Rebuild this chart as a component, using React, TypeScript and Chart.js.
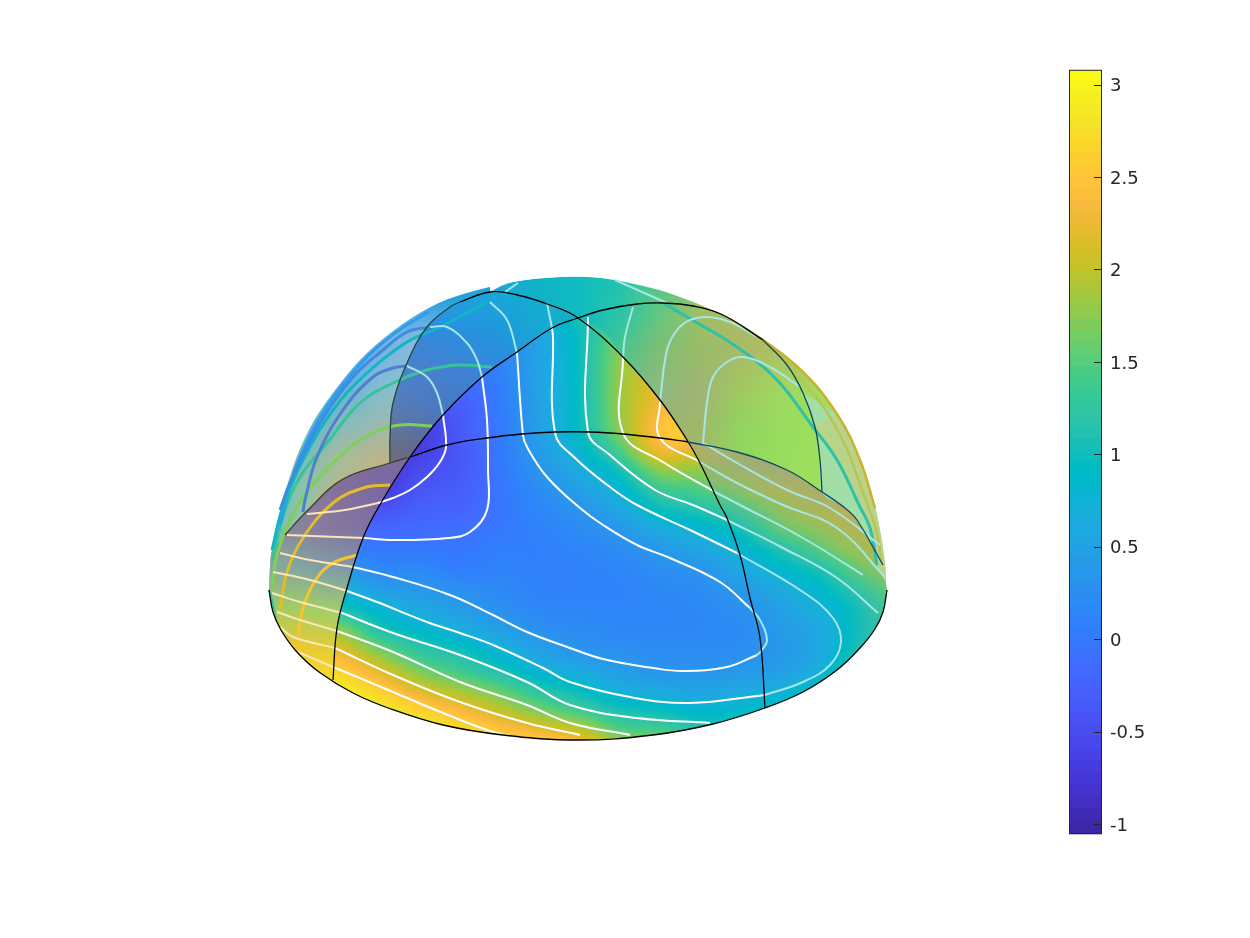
import React, { useEffect, useRef } from "react";
import { Chart, registerables } from "chart.js";
Chart.register(...registerables);

type P = number[];
// ---------- colour scale ----------
const cbMin = -1.055, cbMax = 3.08;
const cbTicks = [-1, -0.5, 0, 0.5, 1, 1.5, 2, 2.5, 3];
const parula = [[.2422,.1504,.6603],[.2504,.165,.7076],[.2578,.1818,.7511],[.2647,.1978,.7952],[.2706,.2147,.8364],[.2751,.2342,.871],[.2783,.2559,.8991],[.2803,.2782,.9221],[.2813,.3006,.9414],[.281,.3228,.9579],[.2795,.3447,.9717],[.276,.3667,.9829],[.2699,.3892,.9906],[.2602,.4123,.9952],[.244,.4358,.9988],[.2206,.4603,.9973],[.1963,.4847,.9892],[.1834,.5074,.9798],[.1786,.5289,.9682],[.1764,.5499,.952],[.1687,.5703,.9359],[.154,.5902,.9218],[.146,.6091,.9079],[.138,.6276,.8973],[.1248,.6459,.8883],[.1113,.6635,.8763],[.0952,.6798,.8598],[.0689,.6948,.8394],[.0297,.7082,.8163],[.0036,.7203,.7917],[.0067,.7312,.766],[.0433,.7411,.7394],[.0964,.75,.712],[.1408,.7584,.6842],[.1717,.767,.6554],[.1938,.7758,.6251],[.2161,.7843,.5923],[.247,.7918,.5567],[.2906,.7973,.5188],[.3406,.8008,.4789],[.3909,.8029,.4354],[.4456,.8024,.3909],[.5044,.7993,.348],[.5616,.7942,.3045],[.6174,.7876,.2612],[.672,.7793,.2227],[.7242,.7698,.191],[.7738,.7598,.1646],[.8203,.7498,.1535],[.8634,.7406,.1596],[.9035,.733,.1774],[.9393,.7288,.21],[.9728,.7298,.2394],[.9956,.7434,.2371],[.997,.7659,.2199],[.9952,.7893,.2028],[.9892,.8136,.1885],[.9786,.8386,.1766],[.9676,.8639,.1643],[.961,.889,.1537],[.9597,.9135,.1423],[.9628,.9373,.1265],[.9691,.9606,.1064],[.9769,.9839,.0805]];

// ---------- surface values (front face) ----------
const frontX = [260,300,340,380,420,460,500,540,580,620,660,700,740,780,820,860,900];
const frontY = [310,330,350,370,390,410,430,450,470,490,510,530,550,570,590,610,630,650,670,690,710,730,750];
const frontField = [
[.3,.3,.3,.3,.3,.3,.3,.7,1.15,1.5,1.8,1.9,2,2,2,2,2],
[0,0,0,0,0,.1,.2,.55,1,1.6,1.9,2,2,2,2,2,2],
[-.3,-.3,-.3,-.3,-.2,0,.12,.5,.98,1.72,2.1,2.2,2,2,2,2,2],
[-.4,-.4,-.4,-.4,-.3,-.1,.08,.5,.97,1.78,2.15,2.3,2,2,2,2,2],
[-.5,-.5,-.5,-.5,-.45,-.25,.03,.5,.97,1.8,2.25,2.4,2,2,2,2,2],
[-.6,-.6,-.6,-.6,-.55,-.35,0,.48,.96,1.8,2.35,2.55,2,2,2,2,2],
[-.7,-.7,-.7,-.72,-.7,-.38,-.02,.46,.95,1.75,2.45,2.6,2.1,2,2,2,2],
[-.7,-.7,-.75,-.8,-.68,-.4,-.03,.4,.8,1.45,2.3,2.15,2,2,2,2,2],
[-.7,-.7,-.75,-.8,-.55,-.38,-.05,.3,.62,1.05,1.75,1.8,1.9,2,2,2,2],
[-.6,-.6,-.7,-.75,-.42,-.33,-.07,.2,.45,.78,1.3,1.45,1.7,2,2.1,2.2,2.3],
[-.2,-.55,-.45,-.45,-.3,-.25,-.07,.12,.3,.55,.95,1.1,1.35,1.75,2,2.3,2.4],
[.05,-.17,-.17,-.2,-.17,-.13,-.03,.07,.18,.34,.6,.78,1,1.5,1.75,2.05,2.3],
[.3,.15,.05,-.02,-.02,-.05,.02,.03,.1,.2,.35,.52,.75,1.08,1.48,1.85,2.1],
[.7,.55,.38,.15,.15,.03,.08,.04,.06,.12,.22,.3,.55,.82,1.08,1.55,1.85],
[1.1,.9,.72,.45,.35,.25,.16,.07,.07,.08,.14,.2,.37,.58,.85,1.22,1.6],
[1.5,1.25,1.08,.8,.58,.42,.26,.14,.11,.1,.12,.15,.25,.45,.7,1.02,1.35],
[2.3,2,1.75,1.1,.85,.65,.45,.26,.19,.15,.14,.15,.18,.38,.58,1,1.2],
[2.6,2.5,2.2,1.65,1.2,1,.72,.47,.29,.24,.2,.2,.22,.35,.58,1.08,1.2],
[2.8,2.8,2.6,2.15,1.65,1.35,1.05,.72,.58,.4,.3,.3,.35,.42,.7,1.3,1.3],
[3,3,2.95,2.6,2.15,1.85,1.55,1.15,.92,.66,.58,.5,.58,.68,1,1.4,1.4],
[3,3,3,2.9,2.65,2.35,2,1.65,1.35,1.05,.95,.8,.85,1,1.3,1.5,1.5],
[3,3,3,3,2.95,2.75,2.5,2.25,2,1.5,1.4,1.15,1.2,1.3,1.5,1.5,1.5],
[3,3,3,3,3,3,2.85,2.85,2.5,2.1,1.9,1.6,1.5,1.5,1.5,1.5,1.5],
];

// ---------- washed (see-through) surface colours ----------
const outerX = [260,300,340,380,420,460];
const outerY = [300,340,380,420,460,500,540];
const outerColors = [
"3a9aea 3a9aea 3a9aea 3a9aea 2e9ee6 20a4dc",
"3a9aea 3a9aea 3ea0e8 70b0e0 8abde0 8abde0",
"3a9aea 3a9fe8 58b0d8 82bcd8 90c0d0 90c0d0",
"3aa0e0 50b0d8 80bcc0 95bbb5 a0bcaa a0bcaa",
"40a8d8 78c0b8 a8bc98 bdb488 c4b280 c4b280",
"60b8c8 90c4a8 b8b888 c4b080 c4b080 c4b080",
"60b8c8 90c4a8 b8b888 c4b080 c4b080 c4b080",
];
const innerX = [380,420,460,500,540,580];
const innerY = [290,330,370,410,450];
const innerColors = [
"20a4e0 20a4e0 20a4e0 18a8d8 10b0cc 10b4c8",
"3090dc 3088dc 2890e0 2098dc 18a8d4 10b4c8",
"4a84d4 4a80cc 3f82d4 3088e0 2098dc 10b4c8",
"5a7cac 507ab8 4478c8 3f84e0 2098dc 10b4c8",
"707078 606a90 5070b0 4478d0 2098dc 10b4c8",
];
const capX = [460,500,540,580,620,660,700,740,780,820,860,900];
const capY = [270,310,350,390,430,470,510];
const capColors = [
"20a8d8 18acd4 10b4c8 10bcc0 20c4b0 50c888 80c470 b0bc5c b0bc5c b0bc5c b0bc5c b0bc5c",
"20a0d8 20a4d4 10b0c8 10bcc0 28c4a8 60c880 a0c064 b0b860 b8b858 c0c050 c0c050 c0c050",
"20a0d8 20a4d4 10b0c8 10bcc0 48c490 80be72 98bc68 a8bb6a b0c060 b8c058 b8c058 b8c058",
"20a0d8 20a4d4 10b0c8 10bcc0 70c080 8eb880 9fb474 a0c85e a0d860 a0dc60 a0dc60 a0dc60",
"20a0d8 20a4d4 10b0c8 10bcc0 70c080 a0b070 a0b868 90d460 98dc5e 9ee05c 9ee05c 9ee05c",
"20a0d8 20a4d4 10b0c8 10bcc0 70c080 a0b070 a0b868 90d860 9adc5e 9ee05c 9ee05c 9ee05c",
"20a0d8 20a4d4 10b0c8 10bcc0 70c080 a0b070 a0b868 90d860 9adc5e 9ee05c 9ee05c 9ee05c",
];
const lobeX = [260,300,340,380];
const lobeY = [450,490,530,570,610,650,690];
const lobeColors = [
"9a8a96 8a7f90 7c6c9a 7c6c9a",
"9a8a9a 8f7d9c 83709c 7a68a0",
"90909c 87839f 85769f 7f70a5",
"8aae9c 82a89f 7f9ca8 7a98b0",
"a4ca60 a4cf60 9fcd70 9fcd70",
"e8c830 f0c832 e0d030 e0d030",
"ffe020 ffe020 ffe020 ffe020",
];
const veilX = [680,720,760,800,840,880];
const veilY = [440,470,500,530,560,590];
const veilColors = [
"98a888c8 98a888c8 98a888c8 98a888c8 98a888c8 98a888c8",
"98a88850 98a888a0 98a888c0 98a888d0 98a888d0 98a888d0",
"98a88810 98a88820 98a88850 98a88890 98a888b0 98a888c8",
"98a88800 98a88800 98a88810 98a88820 98a88860 98a888a0",
"98a88800 98a88800 98a88800 98a88800 98a88810 98a88850",
"98a88800 98a88800 98a88800 98a88800 98a88800 98a88820",
];

// ---------- outlines ----------
const domeTop: P[] = [[269,590],[271,555],[277,522],[293,467],[310,428],[330,397],[360,360],[393,331],[427,309],[460,295],[513,282],[560,277],[602,278],[640,284],[680,297],[723,315],[763,340],[803,372],[837,414],[860,460],[877,515],[885,555],[887,590]];
const domeBottom: P[] = [[887,590],[883,612],[875,629],[860,648],[837,670],[803,692],[765,708],[713,724],[653,735],[578,740],[503,735],[443,725],[391,709],[353,693],[319,672],[296,651],[281,630],[273,612],[269,590]];
const arc1Front: P[] = [[333,680],[337,628],[347,588],[363,538],[378,508],[410,457],[443,415],[482,377],[517,352],[552,328],[578,318],[603,310],[637,304],[663,303],[693,306],[723,315],[763,340]];
const arc1Behind: P[] = [[763,340],[787,365],[803,393],[815,427],[820,460],[822,492]];
const arc2Front: P[] = [[765,708],[760,638],[750,598],[740,555],[727,518],[720,505],[700,463],[687,440],[660,400],[623,357],[578,318],[550,305],[517,295],[490,292],[460,302]];
const arc2Behind: P[] = [[460,302],[450,307],[427,327],[407,363],[393,403],[390,437],[390,463]];
const horizonLeft: P[] = [[285,535],[308,510],[343,479],[390,463],[410,457]];
const horizonMid: P[] = [[410,457],[447,445],[487,438],[522,434],[555,432],[590,432],[623,434],[660,438],[688,442]];
const horizonRight: P[] = [[688,442],[737,452],[787,470],[822,492],[845,508],[857,520],[883,565]];

// ---------- contour lines ----------
const c0White: P[] = [[443,415],[446,447],[440,462],[427,477],[410,490],[393,498],[378,503]];
const c0Cream: P[] = [[378,503],[345,510],[307,514]];
const c0Pale: P[] = [[443,415],[437,393],[427,377],[407,366]];
const c0Blue: P[] = [[407,366],[393,368],[373,377],[343,410],[317,457],[305,500],[303,512]];
const c1White: P[] = [[482,377],[487,420],[488,470],[487,510],[470,532],[448,538],[393,540],[365,538]];
const c1Cream: P[] = [[365,538],[337,537],[287,535]];
const c1Pale: P[] = [[482,377],[477,360],[467,343],[447,327],[430,327]];
const c1Blue: P[] = [[430,327],[407,332],[383,350],[353,377],[320,423],[290,483],[280,510]];
const l1White: P[] = [[517,353],[523,435],[527,447],[547,477],[580,508],[603,525],[637,545],[670,558],[720,582],[750,608]];
const l1Pale: P[] = [[750,608],[760,620],[767,640],[762,650],[757,655]];
const l1WhiteLow: P[] = [[757,655],[727,667],[683,671],[653,668],[603,659],[570,648],[527,632],[493,615],[450,595],[393,577],[353,567]];
const l1Cream: P[] = [[353,567],[310,560],[280,553]];
const l1Top: P[] = [[517,353],[507,320],[490,302]];
const l2White: P[] = [[552,328],[553,337],[555,433],[575,458],[610,487],[637,505],[690,530],[737,553]];
const l2Pale: P[] = [[737,553],[803,592],[833,618],[841,642],[830,665],[803,682],[765,695]];
const l2WhiteLow: P[] = [[765,695],[690,703],[630,697],[570,682],[543,668],[493,645],[460,633],[427,622],[377,602],[347,591]];
const l2Cream: P[] = [[347,591],[310,580],[273,572]];
const l2Top: P[] = [[552,328],[547,303]];
const l3White: P[] = [[588,317],[588,432],[610,455],[655,490],[693,505],[727,520]];
const l3Pale: P[] = [[727,520],[783,548],[837,578],[878,613]];
const l3WhiteLow: P[] = [[710,723],[637,718],[570,705],[527,682],[460,655],[393,633],[342,613]];
const l3Cream: P[] = [[342,613],[300,602],[272,593]];
const l4White: P[] = [[623,358],[623,433],[663,462],[715,492]];
const l4Pale: P[] = [[715,492],[740,505],[803,538],[863,575]];
const l4Top: P[] = [[623,358],[625,337],[633,307]];
const l4WhiteLow: P[] = [[630,735],[570,723],[527,705],[460,682],[393,652],[337,631]];
const l4Cream: P[] = [[337,631],[300,620],[277,612]];
const l5White: P[] = [[660,402],[660,438],[700,462]];
const l5Pale: P[] = [[700,462],[737,483],[783,505],[837,528],[885,577]];
const l5Top: P[] = [[660,402],[667,350],[677,330],[690,320],[707,317],[730,322],[757,337]];
const l5WhiteLow: P[] = [[580,735],[527,723],[460,702],[393,675],[335,648]];
const l5Cream: P[] = [[335,648],[293,637],[280,627]];
const l6Pale: P[] = [[703,443],[737,463],[787,490],[830,508],[880,545]];
const l6Top: P[] = [[703,443],[707,403],[713,377],[727,362],[743,357],[770,367],[800,387]];
const l6WhiteLow: P[] = [[520,738],[493,732],[443,713],[393,692],[333,667]];
const l6Cream: P[] = [[333,667],[298,652]];
const capPale: P[] = [[615,280],[667,303]];
const capPaleLeft: P[] = [[505,292],[518,283]];
// ---------- contours of the far side, seen through ----------
const goldA: P[] = [[390,485],[363,488],[333,503],[303,538],[287,572],[280,612]];
const goldB: P[] = [[357,555],[333,563],[317,578],[303,608],[297,650]];
const greenFar: P[] = [[432,426],[400,425],[373,433],[347,450],[317,480],[295,510],[277,555],[272,592]];
const tealGreenFar: P[] = [[492,367],[460,365],[427,370],[393,383],[360,403],[327,443],[300,477],[285,510],[272,560]];
const tealFar: P[] = [[487,302],[440,327],[407,342],[367,373],[333,410],[303,460],[283,507],[272,550]];
const rimBlueFar: P[] = [[428,312],[395,333],[362,362],[330,402],[312,432],[295,470],[280,525]];
const tealRight: P[] = [[663,303],[687,317],[737,347],[777,380],[813,427],[837,460],[860,507],[870,528],[877,565]];
const rimGold: P[] = [[730,319],[763,340],[803,372],[837,414],[860,460],[875,508]];
const rimOlive: P[] = [[785,362],[820,402],[845,445],[862,490],[876,530],[882,565]];
const sliver: P[] = [[803,393],[815,427],[820,460],[822,492],[845,508],[857,520],[883,565],[887,582],[877,515],[860,460],[837,414]];
const rimBand: P[] = [[813,427],[837,460],[860,507],[870,528],[877,565],[886,580],[877,515],[860,460],[837,414]];

// Points given twice in an outline are its corners.
const frontOutline: P[] = [[333,680],[333,680],...arc1Front.slice(1, 11), [578,318],[603,331],[623,357],[660,400],[687,440],[688,442],[688,442], ...horizonRight.slice(1), [883,565],[887,590], ...domeBottom];
const capOutline: P[] = [[490,292],[490,292],[513,282],[560,277],[602,278],[670,293],[723,315],[763,340],[803,372],[837,414],[860,460],[877,515],[887,590],[887,590],[857,520],[822,492],[787,470],[737,452],[688,442],[688,442],[660,400],[623,357],[578,318],[578,318],[550,305],[517,295]];
const innerOutline: P[] = [[490,292],[490,292],[517,295],[550,305],[578,318],[578,318],[552,328],[517,352],[482,377],[443,415],[410,457],[410,457],[390,463],[390,463],[390,437],[393,403],[407,363],[427,327],[450,307],[460,302]];
const lobeOutline: P[] = [[262,600],[262,600],[268,560],[285,535],[308,510],[343,479],[390,463],[410,457],[410,457],[378,508],[363,538],[347,588],[337,628],[333,680],[333,680],[296,651],[281,630],[270,590]];
const veilOutline: P[] = [[688,442],[688,442],[737,452],[787,470],[822,492],[845,508],[857,520],[883,565],[883,565],[890,620],[890,620],[765,708],[765,708],[760,638],[750,598],[740,555],[727,518],[720,505],[700,463]];
const outerOutline: P[] = [[262,270],[262,270],[490,270],[490,270],[490,470],[490,470],[262,600],[262,600]];

const hex = (s: string) => [0, 2, 4, 6].map(i => (s.length > i ? parseInt(s.slice(i, i + 2), 16) : 255));
const cellCols = (rows: string[]) => rows.map(r => r.split(" ").map(hex));
const valueColor = (v: number) => {
  const t = Math.min(63, Math.max(0, ((v - cbMin) / (cbMax - cbMin)) * 63));
  const i = Math.min(62, Math.floor(t)), f = t - i;
  return [0, 1, 2].map(k => 255 * (parula[i][k] * (1 - f) + parula[i + 1][k] * f)).concat(255);
};
const locate = (a: number[], v: number) => {
  let i = 0;
  while (i < a.length - 2 && a[i + 1] < v) i++;
  return [i, Math.max(0, Math.min(1, (v - a[i]) / (a[i + 1] - a[i])))];
};
const tracePath = (ctx: any, xs: any, ys: any, pts: P[]) => {
  const q = pts.map(p => [xs.getPixelForValue(p[0]), ys.getPixelForValue(p[1])]);
  const n = q.length;
  ctx.beginPath();
  ctx.moveTo(q[0][0], q[0][1]);
  for (let i = 0; i < n; i++) {
    const a = q[(i - 1 + n) % n], b = q[i], c = q[(i + 1) % n], d = q[(i + 2) % n];
    ctx.bezierCurveTo(b[0] + (c[0] - a[0]) / 6, b[1] + (c[1] - a[1]) / 6, c[0] - (d[0] - b[0]) / 6, c[1] - (d[1] - b[1]) / 6, c[0], c[1]);
  }
  ctx.closePath();
};
const cubic = (a: number, b: number, c: number, d: number, t: number) =>
  b + 0.5 * t * (c - a + t * (2 * a - 5 * b + 4 * c - d + t * (3 * (b - c) + d - a)));
const sampleField = (f: number[][], i: number, j: number, fx: number, fy: number) => {
  const rows = [j - 1, j, j + 1, j + 2].map(r => Math.max(0, Math.min(f.length - 1, r)));
  const cs = [i - 1, i, i + 1, i + 2].map(c => Math.max(0, Math.min(f[0].length - 1, c)));
  const v = rows.map(r => cubic(f[r][cs[0]], f[r][cs[1]], f[r][cs[2]], f[r][cs[3]], fx));
  return cubic(v[0], v[1], v[2], v[3], fy);
};
function paint(ctx: any, xs: any, ys: any, gx: number[], gy: number[], outline: P[], field: number[][] | null, cols: number[][][] | null) {
  const px = outline.map(p => xs.getPixelForValue(p[0])), py = outline.map(p => ys.getPixelForValue(p[1]));
  const x0 = Math.floor(Math.min(...px)) - 4, x1 = Math.ceil(Math.max(...px)) + 4, y0 = Math.floor(Math.min(...py)) - 4, y1 = Math.ceil(Math.max(...py)) + 4;
  const w = x1 - x0, h = y1 - y0;
  const off = document.createElement("canvas");
  off.width = w; off.height = h;
  const oc = off.getContext("2d")!;
  const img = oc.createImageData(w, h);
  for (let r = 0; r < h; r++) {
    const [j, fy] = locate(gy, ys.getValueForPixel(y0 + r + 0.5));
    for (let c = 0; c < w; c++) {
      const [i, fx] = locate(gx, xs.getValueForPixel(x0 + c + 0.5));
      let rgba: number[];
      if (field) {
        rgba = valueColor(sampleField(field, i, j, fx, fy));
      } else {
        const g = cols!;
        rgba = [0, 1, 2, 3].map(k => g[j][i][k] * (1 - fx) * (1 - fy) + g[j][i + 1][k] * fx * (1 - fy) + g[j + 1][i][k] * (1 - fx) * fy + g[j + 1][i + 1][k] * fx * fy);
      }
      const o = (r * w + c) * 4;
      img.data[o] = rgba[0]; img.data[o + 1] = rgba[1]; img.data[o + 2] = rgba[2]; img.data[o + 3] = rgba[3];
    }
  }
  oc.putImageData(img, 0, 0);
  ctx.save();
  tracePath(ctx, xs, ys, outline);
  ctx.clip();
  ctx.drawImage(off, x0, y0);
  ctx.restore();
}

const surfacePlugin = {
  id: "surface",
  beforeDatasetsDraw(chart: any) {
    const { ctx, scales: { x, y } } = chart;
    ctx.save();
    tracePath(ctx, x, y, [...domeTop, ...domeBottom]);
    ctx.clip();
    paint(ctx, x, y, outerX, outerY, outerOutline, null, cellCols(outerColors));
    paint(ctx, x, y, innerX, innerY, innerOutline, null, cellCols(innerColors));
    paint(ctx, x, y, capX, capY, capOutline, null, cellCols(capColors));
    paint(ctx, x, y, frontX, frontY, frontOutline, frontField, null);
    paint(ctx, x, y, lobeX, lobeY, lobeOutline, null, cellCols(lobeColors));
    paint(ctx, x, y, veilX, veilY, veilOutline, null, cellCols(veilColors));
    ctx.restore();
  },
};

const WHITE = "#ffffff", PALE = "#a6e6e6", CREAM = "#fbe6b8";
const lineSets: [P[], string, number][] = [
  [goldA, "#e2bd2a", 3], [goldB, "#f5c62b", 3], [greenFar, "#7fcf58", 3], [tealGreenFar, "#36c49a", 3], [rimBlueFar, "#2f9cee", 3], [tealFar, "#12b4c8", 3],
  [c0Blue, "#4f7fd0", 3], [c1Blue, "#3f8be0", 3], [rimGold, "#cdb02c", 2.5], [rimOlive, "#b8c458", 2.5], [tealRight, "#30c0a8", 3],
  [c0White, WHITE, 2], [c0Cream, CREAM, 2], [c0Pale, PALE, 2],
  [c1White, WHITE, 2], [c1Cream, CREAM, 2], [c1Pale, PALE, 2],
  [l1White, WHITE, 2], [l1Pale, PALE, 2], [l1WhiteLow, WHITE, 2], [l1Cream, CREAM, 2], [l1Top, PALE, 2],
  [l2White, WHITE, 2], [l2Pale, PALE, 2], [l2WhiteLow, WHITE, 2], [l2Cream, CREAM, 2], [l2Top, PALE, 2],
  [l3White, WHITE, 2], [l3Pale, PALE, 2], [l3WhiteLow, WHITE, 2], [l3Cream, CREAM, 2],
  [l4White, WHITE, 2], [l4Pale, PALE, 2], [l4Top, PALE, 2], [l4WhiteLow, WHITE, 2], [l4Cream, CREAM, 2],
  [l5White, WHITE, 2], [l5Pale, PALE, 2], [l5Top, PALE, 2], [l5WhiteLow, WHITE, 2], [l5Cream, CREAM, 2],
  [l6Pale, PALE, 2], [l6Top, PALE, 2], [l6WhiteLow, WHITE, 2], [l6Cream, CREAM, 2],
  [capPale, PALE, 2], [capPaleLeft, PALE, 2],
  [domeBottom, "#000000", 1.3],
  [arc1Front, "#000000", 1.3], [arc2Front, "#000000", 1.3], [horizonMid, "#000000", 1.3],
  [arc1Behind, "#0f4a5c", 1.3], [arc2Behind, "#27463f", 1.3], [horizonLeft, "#3d3d20", 1.3], [horizonRight, "#0f4a66", 1.3],
];
const toXY = (pts: P[]) => pts.map(p => ({ x: p[0], y: p[1] }));

function MainChart() {
  const ref = useRef<HTMLCanvasElement>(null);
  useEffect(() => {
    const shape = (pts: P[], color: string) => ({ data: toXY(pts), showLine: true, fill: "shape", backgroundColor: color, borderWidth: 0, pointRadius: 0, tension: 0.4 });
    const all: any[] = [
      shape(sliver, "#a2dea6"),
      shape(rimBand, "#b8d48a"),
      ...lineSets.map(([pts, color, width]) => ({ data: toXY(pts), showLine: true, borderColor: color, borderWidth: width, pointRadius: 0, tension: 0.4, fill: false })),
    ];
    all.forEach((d, i) => (d.order = all.length - i));
    const chart = new Chart(ref.current!, {
      type: "scatter",
      data: { datasets: all },
      plugins: [surfacePlugin],
      options: {
        animation: false, responsive: false, devicePixelRatio: 1,
        layout: { padding: 0 },
        plugins: { legend: { display: false }, tooltip: { enabled: false }, title: { display: false } },
        scales: { x: { type: "linear", min: 0, max: 1250, display: false }, y: { type: "linear", min: 0, max: 938, reverse: true, display: false } },
      },
    } as any);
    return () => chart.destroy();
  }, []);
  return <canvas ref={ref} width={1250} height={938} style={{ position: "fixed", left: 0, top: 0 }} />;
}

const barFramePlugin = {
  id: "barFrame",
  afterDatasetsDraw(chart: any) {
    const { ctx, chartArea: a, scales: { y } } = chart;
    ctx.save();
    ctx.strokeStyle = "#262626";
    ctx.lineWidth = 1;
    ctx.strokeRect(a.left + 0.5, a.top + 0.5, a.right - a.left - 1, a.bottom - a.top - 1);
    y.ticks.forEach((t: any) => {
      const py = Math.round(y.getPixelForValue(t.value)) + 0.5;
      ctx.beginPath(); ctx.moveTo(a.right - 8, py); ctx.lineTo(a.right, py); ctx.stroke();
    });
    ctx.restore();
  },
};

function ColorBar() {
  const ref = useRef<HTMLCanvasElement>(null);
  useEffect(() => {
    const n = parula.length, step = (cbMax - cbMin) / n;
    const datasets = parula.map((c, i) => ({
      data: [[cbMin + i * step, Math.min(cbMax, cbMin + (i + 1) * step + 0.01)]],
      backgroundColor: `rgb(${c.map(k => Math.round(k * 255)).join(",")})`,
      grouped: false, barPercentage: 1, categoryPercentage: 1, borderWidth: 0, borderSkipped: false,
    }));
    const chart = new Chart(ref.current!, {
      type: "bar",
      data: { labels: [""], datasets },
      plugins: [barFramePlugin],
      options: {
        animation: false, responsive: false, devicePixelRatio: 1,
        layout: { padding: 0 },
        plugins: { legend: { display: false }, tooltip: { enabled: false } },
        scales: {
          x: { display: false },
          y: {
            position: "right", min: cbMin, max: cbMax,
            afterBuildTicks: (s: any) => { s.ticks = cbTicks.map(v => ({ value: v })); },
            afterFit: (s: any) => { s.width = 148; },
            grid: { display: false },
            border: { display: false },
            ticks: { color: "#262626", padding: 0, labelOffset: 2, font: { family: "DejaVu Sans", size: 18 }, callback: (v: any) => String(v), autoSkip: false, maxRotation: 0 },
          },
        },
      },
    } as any);
    return () => chart.destroy();
  }, []);
  return <canvas ref={ref} width={181} height={786} style={{ position: "fixed", left: 1069, top: 59 }} />;
}

export default function App() {
  return (
    <>
      <MainChart />
      <ColorBar />
    </>
  );
}
